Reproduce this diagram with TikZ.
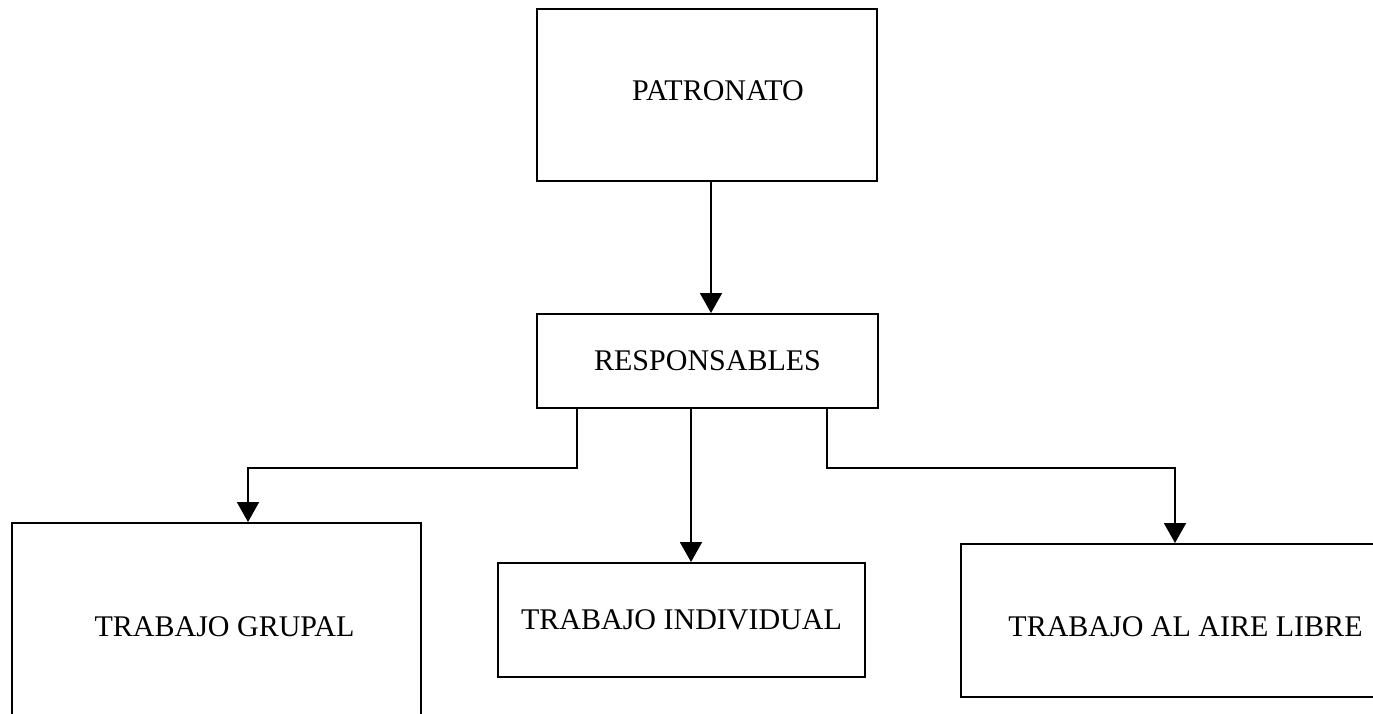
\documentclass[tikz,border=0pt]{standalone}
\usepackage{fontspec}
\setmainfont{Liberation Serif}
\usetikzlibrary{arrows.meta}
\begin{document}
\begin{tikzpicture}[x=1pt,y=-1pt,
  box/.style={draw, line width=2pt, inner sep=0pt, font=\fontsize{30}{33}\selectfont},
  link/.style={line width=2pt, -{Triangle[width=22pt,length=20pt]}}]
  \useasboundingbox (0,0) rectangle (1373,713);
  \clip (0,0) rectangle (1373,713);

  % boxes
  \node[box, minimum width=340pt, minimum height=172pt,
        label={[font=\fontsize{30}{33}\selectfont, xshift=11pt, yshift=4pt]center:PATRONATO}] (pat) at (707,95) {};
  \node[box, minimum width=341pt, minimum height=94pt] (resp) at (707.5,361) {RESPONSABLES};
  \node[box, minimum width=409pt, minimum height=208pt,
        label={[font=\fontsize{30}{33}\selectfont, xshift=8pt]center:TRABAJO GRUPAL}] (grupal) at (216.5,627) {};
  \node[box, minimum width=367pt, minimum height=114pt] (indiv) at (681.5,620) {TRABAJO INDIVIDUAL};
  \node[box, minimum width=459pt, minimum height=153pt,
        label={[font=\fontsize{30}{33}\selectfont, xshift=-5pt, yshift=-6pt]center:TRABAJO AL AIRE LIBRE}] (aire) at (1190.5,620.5) {};

  % connectors
  \draw[link] ([xshift=4pt]pat.south) -- ([xshift=3.5pt]resp.north);
  \draw[link] ([xshift=-130.5pt]resp.south) -- ++(0,59) -| ([xshift=31.5pt]grupal.north);
  \draw[link] ([xshift=-16.5pt]resp.south) -- ([xshift=9.5pt]indiv.north);
  \draw[link] ([xshift=119.5pt]resp.south) -- ++(0,59) -| ([xshift=-15.5pt]aire.north);
\end{tikzpicture}
\end{document}
